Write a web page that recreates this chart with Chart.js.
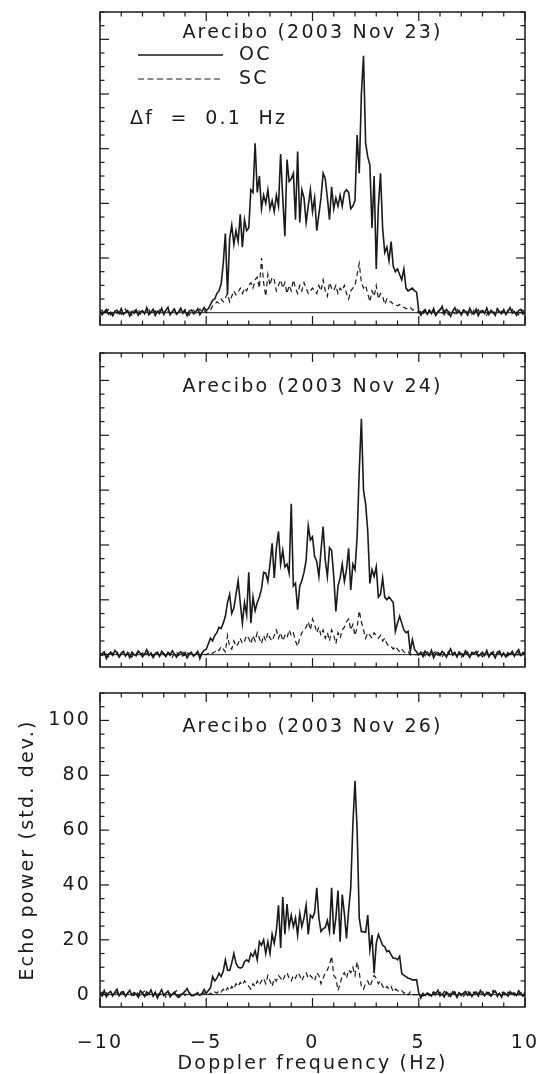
<!DOCTYPE html>
<html>
<head>
<meta charset="utf-8">
<script src="https://cdn.jsdelivr.net/npm/chart.js@4/dist/chart.umd.min.js"></script>
<style>
  body { margin: 0; background: #fff; }
  #wrap { position: relative; width: 541px; height: 1074px; }
  canvas { position: absolute; left: 0; }
</style>
</head>
<body>
<div id="wrap">
  <canvas id="c23" width="541" height="340" style="top:0px"></canvas>
  <canvas id="c24" width="541" height="340" style="top:340px"></canvas>
  <canvas id="c26" width="541" height="394" style="top:680px"></canvas>
</div>
<script>
// Doppler grid, 0.1 Hz bins from -10 to 10 Hz
const freq = Array.from({ length: 201 }, (_, i) => Math.round(-100 + i) / 10);

const titles = ["Arecibo (2003 Nov 23)", "Arecibo (2003 Nov 24)", "Arecibo (2003 Nov 26)"];
const seriesNames = ["OC", "SC"];
const xMajor = [-10, -5, 0, 5, 10];
const yMajor = [0, 20, 40, 60, 80, 100];

// 2003 Nov 23
const oc23 = [
  0.5,-0.8,0.3,1.2,-0.5,0.2,-1.1,0.6,0.9,-0.3,
  1.5,-0.6,0.1,0.8,-1.2,0.4,-0.2,1.1,-0.9,0.3,
  0.7,-0.4,1.8,-0.7,0.2,1.3,-1.0,0.5,-0.3,1.6,
  -0.5,0.9,2.0,-0.8,0.4,1.2,-0.6,0.3,1.7,-0.2,
  0.8,-1.1,0.6,1.0,-0.4,0.2,1.4,-0.7,0.5,1.9,
  0.8,1.5,3.0,4.5,5.0,7.0,8.0,10.5,18,29,
  6.7,27,32,25,30,26,36,24,34,30,
  31,45,44,62,44,50,38,43,40,45,
  38,41,37,43,39,58,42,28,56,48,
  49,51,34,59,33,45,42,33,39,45,
  37,42,30,36,42,51,49,42,34,46,
  38,42,39,43,39,44,45,44,38,39,
  41,65,51,80,94,62,57,54,31,50,
  16,39,51,31,22,24,19,26,17,15,
  16,14,12,16,9,8,8.5,9,8,7.5,
  0.5,
  -0.9,0.4,1.1,-0.6,0.8,-0.3,1.5,-1.0,0.2,0.9,
  2.3,-0.5,1.2,0.3,-1.3,0.6,1.8,-0.2,0.7,-0.8,
  1.0,0.4,-0.9,1.6,0.1,-0.5,1.3,-1.1,0.5,0.8,
  -0.3,1.7,-0.6,0.9,0.2,-1.0,1.4,0.3,-0.4,1.1,
  -0.7,0.6,1.9,-0.2,0.4,-0.9,0.8,1.2,-0.5,0.3
];
const sc23 = [
  0.3,0.9,-0.4,0.6,1.1,-0.8,0.2,0.7,-0.3,1.0,
  -0.6,0.4,1.3,-0.2,0.5,-0.9,0.8,0.1,1.2,-0.5,
  0.6,-0.1,0.9,1.4,-0.7,0.3,0.7,-0.4,1.0,0.2,
  -0.8,1.1,0.4,-0.3,0.9,1.5,-0.6,0.2,0.8,-0.1,
  1.2,0.3,-0.9,0.6,1.0,-0.2,0.5,1.3,0.2,0.8,
  0,0.5,1,2.5,3,4,3.5,5,4,5.5,
  7,4,6,8,6.5,7.5,9,7,9,8,
  10,11,9,12,13,9,20,11,6,14,
  10,13,12,8,10,12,9,11,7,10,
  8,12,9,7,10,8,11,9,7,8,
  9,8,7,10,8,12,8,6,11,9,
  8,10,7,9,8,10,7,5,8,9,
  10,14,18,11,9,10,7,4,8,6,
  10,5,7,6,3,5,4,4,3,3,
  2.5,3,2,2,1.5,1.5,2,1,1,0.5,
  0,
  0.4,-0.6,0.9,0.2,1.1,-0.3,0.7,-0.9,0.5,1.3,
  -0.2,0.8,0.1,-0.7,1.0,0.4,-0.4,1.2,0.3,-0.8,
  0.6,1.4,-0.1,0.5,-0.6,0.9,0.2,1.1,-0.5,0.7,
  0.3,-0.9,1.0,0.4,-0.2,0.8,1.5,-0.4,0.6,0.1,
  -0.7,0.9,0.3,1.2,-0.3,0.5,-0.8,0.7,1.0,-1.0
];

// 2003 Nov 24
const oc24 = [
  -0.6,0.4,1.0,-1.4,0.2,0.8,-0.3,1.5,0.6,-0.9,
  0.3,1.2,-0.5,0.7,-1.1,0.9,0.1,-0.4,1.3,0.5,
  -0.8,0.2,1.8,-0.3,0.6,-1.0,0.4,0.9,-0.6,1.1,
  0.2,-0.7,0.8,-0.2,1.4,0.3,-0.9,0.5,1.0,-0.4,
  0.7,-1.2,0.3,0.9,-0.5,0.2,1.2,-1.5,0.6,1.6,
  2,4,6,5,7,8,10,9.5,11.5,14,
  19,22,15,17,22,27,19,11.5,19,14.5,
  30,11.5,21,16,19,21,24,30,29.7,26.7,
  33,40.6,28,39,45,33,38,32,33,29.7,
  55,25,26,16.4,25,27,30,34.5,47,41.8,
  43,35.8,34,28.5,38,46.7,34.5,28.5,39,38,
  28.5,15.8,25,28,33,26.7,31,38.8,23.6,33,
  31,43,67,86,60,55,45,26,31,28.5,
  32,21,22,28,21,20,21,20,19,8.5,
  11.5,14,11.5,9,8,8.5,1.2,5.5,2,1,
  0,
  0.9,-0.7,1.3,0.2,-0.4,1.6,-1.1,0.5,0.8,-0.3,
  1.2,0.4,-0.9,0.7,2.1,-0.2,0.6,-0.8,1.0,0.3,
  -0.5,1.4,0.1,-1.0,0.8,0.4,1.1,-0.6,0.2,0.9,
  -0.3,1.5,-0.8,0.6,0.2,-1.2,0.9,1.3,-0.4,0.5,
  -0.9,0.7,0.1,1.2,-0.6,0.8,1.8,-0.3,0.4,1.0
];
const sc24 = [
  0.5,-0.3,0.8,0.2,-0.7,1.0,0.4,-0.2,0.9,-0.5,
  0.6,1.1,-0.4,0.3,0.8,-0.9,0.5,0.2,1.2,-0.3,
  0.7,-0.6,0.4,1.0,0.1,-0.8,0.9,0.3,-0.2,1.3,
  0.5,-0.4,0.8,0.2,-1.0,0.6,1.1,-0.3,0.4,0.9,
  -0.5,0.7,0.2,1.0,-0.6,0.3,0.8,-0.2,0.5,0.1,
  0,0.5,1,0.5,1,2,1.5,3,2,1,
  7,3,2,5,3,4,6,4,5,7,
  6,4,7,5,8,6,4,7,5,8,
  6,5,7,9,6,8,5,7,6,9,
  7,8,5,3,6,8,9,10,12,9,
  13,11,8,10,7,9,6,8,5,9,
  7,4,8,6,9,10,12,13,9,11,
  7,10,16,12,9,6,8,7,6,8,
  7,6,7,5,6,4,3,3,2,3,
  2,1,2,1,0.5,1,0,0.5,0,0,
  0,
  0.2,0.8,-0.4,1.0,0.3,-0.7,0.6,1.2,-0.2,0.5,
  -0.9,0.7,0.3,1.1,-0.5,0.4,0.9,-0.3,0.6,-1.3,
  0.8,0.2,1.0,-0.6,0.4,0.7,-0.2,1.3,0.1,-0.8,
  0.5,0.9,-0.4,0.6,1.1,-0.3,0.2,0.8,-0.7,1.0,
  0.3,-0.5,0.9,0.4,-0.2,1.2,0.6,-0.6,0.8,0.2
];

// 2003 Nov 26
const oc26 = [
  0.8,-0.5,1.5,-0.8,0.6,1.2,-0.3,0.9,2.0,-0.4,
  0.7,1.1,-0.6,0.5,1.6,-0.2,0.8,0.3,-0.9,1.4,
  0.6,-0.7,1.0,0.2,1.7,-0.5,0.9,-1.2,0.4,1.8,
  -0.3,0.6,1.3,-0.8,0.2,0.9,-0.4,-1.0,-0.2,0.5,
  1.2,2.2,0.6,-0.3,-0.4,0.1,0.3,-0.2,0.4,1.9,
  0.5,1.5,2.5,6.6,5,6,7.8,6.6,8.5,12.7,
  9,8.8,11.5,15,11.5,10,9.7,10,12,12.7,
  12,15,14,16,12.7,19.3,18,20,15,19.3,
  15,22,18.7,23.5,32.6,17,35.6,22,33,24.8,
  29,24.8,28,21.7,29.6,24.8,28,32.6,22,29,
  28,30,39,28,23,24,24.5,27,23,39,
  22,28,38,19.3,36.5,29.6,20.5,30.8,39,62,
  78,60,28,23,23,22.7,29,16.3,21.7,7.8,
  18.7,22,20,18,17.5,15.7,16,14.5,13.3,13.3,
  12.7,14,7.8,7,6.6,6,5.8,5.4,5.4,5.4,
  0.6,
  -1.2,0.5,-0.3,0.6,0.2,-0.5,1.0,0.4,1.6,-0.4,
  0.3,-0.8,0.9,0.2,-0.6,1.1,0.5,-1.0,0.7,-0.3,
  0.6,1.2,-0.2,0.8,-0.7,0.4,1.0,-0.5,1.5,0.3,
  -0.4,0.9,0.1,-0.6,0.7,1.3,-0.2,0.5,-0.9,0.8,
  0.3,-0.5,1.1,0.2,0.6,-0.3,1.4,0.4,-0.6,0.9
];
const sc26 = [
  0.3,0.9,-0.4,0.7,0.1,1.1,-0.6,0.5,0.8,-0.2,
  1.0,0.3,-0.7,0.6,1.2,0.1,-0.4,0.9,0.4,-0.8,
  0.7,1.3,-0.3,0.5,0.2,-0.6,1.0,0.6,-0.2,0.8,
  0.4,-0.9,1.1,0.3,-0.1,0.7,1.4,-0.5,0.2,0.9,
  -0.3,0.6,1.0,-0.4,0.5,0.2,0.8,-0.2,0.4,0.6,
  0,0,0.5,0,1,0.5,1.5,1,2,1,
  2.5,1.5,3,2,4,3,4.5,3.5,5,4,
  3,2,4,3,5,3.5,5,6,4,7,
  5,3,6,5,7,6,5,7,8,6,
  5,7,6,8,7,5,7,8,6,7,
  6,5,8,7,4,6,8,9,11,14,
  7,6,1.5,4,7,8,6,9,8,10,
  7,12,8,3,2,4,5,3,5,7,
  6,4,5,3,2,3,2,3,1,2,
  1.5,1,1.5,0.5,1,0,1,0,0,0,
  0,
  0.2,-0.5,0.8,0.4,-0.3,1.0,0.6,-0.7,0.3,0.9,
  -0.2,1.2,0.5,-0.6,0.7,0.1,1.1,-0.4,0.6,0.3,
  -0.9,0.8,1.5,-0.2,0.4,1.0,-0.6,0.7,0.2,1.3,
  -0.4,0.5,0.9,-0.1,1.6,0.3,-0.8,0.6,1.1,0.2,
  -0.5,0.9,0.4,1.2,-0.3,0.7,0.1,0.8,1.0,-0.4
];

const FONT = "19px 'DejaVu Sans'";
const INK = "#1a1a1a";

// valeur de tick arrondie (évite les -0.0000001)
function roundTick(v) {
    const r = Math.round(v);
    return Math.abs(v - r) < 1e-6 ? r : null;
}
function fmtTick(v) {
    return v < 0 ? "\u2212" + Math.abs(v) : String(v);
}

// cadre, ticks internes, ligne zéro, titre, légende
const framePlugin = {
    id: "frame",
    beforeDraw(chart) {
        chart.ctx.letterSpacing = "2.2px";
    },
    afterDatasetsDraw(chart, args, opts) {
        const { ctx, chartArea: a, scales: { x, y } } = chart;
        const seg = (x1, y1, x2, y2) => { ctx.beginPath(); ctx.moveTo(x1, y1); ctx.lineTo(x2, y2); ctx.stroke(); };
        ctx.save();
        ctx.strokeStyle = INK;
        ctx.lineWidth = 1;
        const y0 = y.getPixelForValue(0);
        seg(a.left, y0, a.right, y0);

        ctx.lineWidth = 1.5;
        ctx.strokeRect(a.left, a.top, a.right - a.left, a.bottom - a.top);
        ctx.lineWidth = 1.2;
        x.ticks.forEach(t => {
            const v = roundTick(t.value);
            if (v === null) return;
            const px = x.getPixelForValue(v);
            const len = xMajor.includes(v) ? 9 : 4.5;
            seg(px, a.bottom, px, a.bottom - len);
            seg(px, a.top, px, a.top + len);
        });
        y.ticks.forEach(t => {
            const v = roundTick(t.value);
            if (v === null || v % 5 !== 0) return;
            const py = y.getPixelForValue(v);
            const len = yMajor.includes(v) ? 9 : 4.5;
            seg(a.left, py, a.left + len, py);
            seg(a.right, py, a.right - len, py);
        });

        ctx.fillStyle = INK;
        ctx.font = FONT;
        ctx.textBaseline = "middle";
        ctx.textAlign = "center";
        ctx.fillText(opts.title, (a.left + a.right) / 2, a.top + opts.titleOffset);

        if (opts.legend) {
            ctx.textAlign = "left";
            ctx.lineWidth = 1.5;
            seg(a.left + 38, a.top + 43, a.left + 123, a.top + 43);
            ctx.fillText(seriesNames[0], a.left + 139, a.top + 43);
            ctx.setLineDash([6, 3.5]);
            ctx.lineWidth = 1.2;
            seg(a.left + 38, a.top + 67, a.left + 123, a.top + 67);
            ctx.setLineDash([]);
            ctx.fillText(seriesNames[1], a.left + 139, a.top + 67);
            ctx.fillText("\u0394f  =  0.1  Hz", a.left + 30, a.top + 107);
        }
        ctx.restore();
    }
};

function drawPanel(canvasId, oc, sc, cfg) {
    const ctx = document.getElementById(canvasId).getContext("2d");
    new Chart(ctx, {
        type: "line",
        data: {
            datasets: [
                { label: seriesNames[0], data: oc.map((v, i) => ({ x: freq[i], y: v })),
                  borderColor: INK, borderWidth: 1.6, pointRadius: 0, tension: 0 },
                { label: seriesNames[1], data: sc.map((v, i) => ({ x: freq[i], y: v })),
                  borderColor: INK, borderWidth: 1.2, borderDash: [5, 3.5], pointRadius: 0, tension: 0 }
            ]
        },
        options: {
            responsive: false,
            animation: false,
            layout: { padding: { top: cfg.top, right: 16, bottom: 0, left: 0 } },
            plugins: {
                legend: { display: false },
                tooltip: { enabled: false },
                frame: { title: cfg.title, titleOffset: cfg.titleOffset, legend: cfg.legend }
            },
            scales: {
                x: {
                    type: "linear", min: -10, max: 10,
                    grid: { display: false, drawTicks: false }, border: { display: false },
                    ticks: {
                        display: cfg.labels, stepSize: 1, autoSkip: false, maxRotation: 0,
                        padding: 25, color: INK, font: { family: "'DejaVu Sans'", size: 19 },
                        callback: v => {
                            const r = roundTick(v);
                            return r !== null && xMajor.includes(r) ? fmtTick(r) : "";
                        }
                    },
                    title: {
                        display: cfg.labels, text: "Doppler frequency (Hz)", color: INK,
                        font: { family: "'DejaVu Sans'", size: 19, lineHeight: "20px" },
                        padding: { top: 0, bottom: 0 }
                    },
                    afterFit: s => { s.height = cfg.xHeight; s.paddingLeft = 0; s.paddingRight = 0; }
                },
                y: {
                    min: -4.5, max: 110,
                    grid: { display: false, drawTicks: false }, border: { display: false },
                    ticks: {
                        display: cfg.labels, stepSize: 5, autoSkip: false, includeBounds: false, padding: 9,
                        color: INK, font: { family: "'DejaVu Sans'", size: 19 },
                        callback: v => {
                            const r = roundTick(v);
                            return r !== null && yMajor.includes(r) ? fmtTick(r) : "";
                        }
                    },
                    title: {
                        display: cfg.labels, text: "Echo power (std. dev.)", color: INK,
                        font: { family: "'DejaVu Sans'", size: 19, lineHeight: "20px" },
                        padding: { top: 18, bottom: 0 }
                    },
                    afterFit: s => { s.width = 100; s.paddingTop = 0; s.paddingBottom = 0; }
                }
            }
        },
        plugins: [framePlugin]
    });
}

drawPanel("c23", oc23, sc23, { top: 12, xHeight: 15, labels: false, title: titles[0], titleOffset: 21, legend: true });
drawPanel("c24", oc24, sc24, { top: 13, xHeight: 13, labels: false, title: titles[1], titleOffset: 34, legend: false });
drawPanel("c26", oc26, sc26, { top: 13, xHeight: 67, labels: true, title: titles[2], titleOffset: 34, legend: false });
</script>
</body>
</html>
